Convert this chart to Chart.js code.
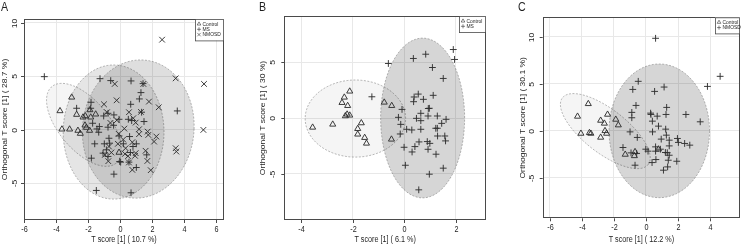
<!DOCTYPE html>
<html>
<head>
<meta charset="utf-8">
<script src="https://cdn.jsdelivr.net/npm/chart.js@4/dist/chart.umd.min.js"></script>
<style>
body { margin: 0; background: #fff; width: 745px; height: 244px; overflow: hidden; position: relative; }
canvas { position: absolute; top: 0; }
</style>
</head>
<body>
<canvas id="pa" width="248" height="244" style="left:0px"></canvas>
<canvas id="pb" width="250" height="244" style="left:250px"></canvas>
<canvas id="pc" width="245" height="244" style="left:500px"></canvas>
<script>
// ---- panel A : Control / MS / NMOSD ----
const aControl = [[-3.02,3.04],[-3.75,1.77],[-3.63,0.06],[-3.15,0.06],[-2.63,-0.06],[-2.48,-0.34],[-2.71,1.43],[-2.31,1.18],[-2.17,1.30],[-1.88,1.86],[-1.83,1.18],[-1.52,1.46],[-2.19,0.43],[-2.10,0.22],[-1.90,-0.06],[-0.06,-2.11]];
const aMS = [[-4.73,4.97],[-1.25,4.78],[-0.58,4.60],[0.69,4.57],[1.44,4.32],[1.31,3.48],[1.21,2.89],[3.58,1.77],[-2.71,2.02],[-1.81,2.58],[-1.83,2.02],[0.67,2.39],[1.35,1.65],[-1.02,1.30],[-0.75,1.55],[-0.38,1.40],[-0.06,0.99],[0.52,0.99],[0.73,0.87],[1.50,0.78],[-1.71,0.62],[-1.29,0.31],[-0.75,0.25],[-0.40,0.43],[-1.44,0.09],[-1.33,-0.22],[-0.06,-0.56],[0.60,-0.62],[-0.69,-0.78],[-1.58,-1.30],[-0.98,-1.30],[0.21,-1.30],[1.02,-1.30],[-0.65,-1.24],[-0.85,-1.86],[-1.06,-2.17],[-0.75,-2.48],[0.81,-1.55],[0.65,-2.11],[1.67,-2.33],[0.04,-3.01],[0.56,-3.01],[-0.02,-2.95],[-1.79,-2.64],[1.02,-3.51],[-0.38,-4.13],[-1.48,-5.65],[0.69,-5.87]];
const aNMOSD = [[2.63,8.42],[5.25,4.29],[3.48,4.81],[5.21,0.0],[3.48,-1.71],[3.52,-2.02],[-0.33,4.29],[1.46,4.29],[1.81,2.64],[2.42,2.11],[-0.21,2.76],[-1.0,2.39],[0.56,1.65],[1.31,1.68],[-0.81,1.65],[0.83,1.09],[0.98,0.68],[-0.60,0.65],[0.27,0.12],[1.19,0.06],[-0.08,-0.37],[1.19,-0.40],[1.77,-0.47],[2.27,-0.62],[2.13,-1.09],[1.73,-0.16],[-0.13,-1.30],[0.77,-1.15],[0.35,-1.71],[-0.69,-1.55],[-0.54,-2.11],[-0.94,-2.33],[0.31,-2.24],[0.50,-2.45],[0.98,-2.17],[1.60,-1.95],[1.71,-2.90],[0.94,-2.42],[0.56,-3.04],[-0.73,-2.92],[0.77,-3.73],[1.92,-3.76],[-0.20,0.90],[0.20,-0.90]];
// confidence ellipses: [cx, cy, ux, uy, vx, vy]
const aEllControl = [-2.25, 0.47, 2.01, -3.57, -1.20, -1.50];
const aEllMS = [-0.40, -0.20, 3.15, 0, 0, 6.26];
const aEllNMOSD = [1.14, 0.08, 3.49, 0, 0.15, 6.45];
const aXTicks = [-6, -4, -2, 0, 2, 4, 6];
const aYTicks = [-5, 0, 5, 10];

// ---- panel B : Control / MS ----
const bControl = [[-3.56,-0.84],[-2.78,-0.57],[-2.12,2.39],[-2.33,1.85],[-2.42,1.37],[-2.20,1.10],[-2.29,0.18],[-2.22,0.33],[-2.12,0.24],[-1.67,-0.45],[-1.81,-0.96],[-1.81,-1.46],[-1.54,-1.76],[-1.47,-2.27],[-0.78,1.40],[-0.49,1.10],[-0.50,-1.91]];
const bMS = [[-0.62,4.88],[0.35,5.33],[0.83,5.71],[1.90,6.13],[1.95,5.24],[1.09,4.52],[1.51,3.54],[-1.26,1.90],[0.54,2.14],[0.38,1.88],[0.36,1.46],[0.74,1.67],[1.12,2.03],[0.97,0.87],[0.93,0.85],[-0.09,0.77],[-0.23,0.06],[0.47,-0.03],[0.64,0.42],[0.64,-0.24],[0.92,0.18],[1.28,0.18],[1.62,-0.12],[-0.14,-0.57],[0.09,-1.01],[0.29,-1.07],[0.64,-1.01],[1.22,-0.92],[1.28,-0.92],[1.45,-0.48],[-0.16,-1.43],[1.29,-1.61],[1.57,-1.61],[1.60,-2.05],[0.57,-2.14],[0.89,-2.11],[0.99,-2.27],[0.41,-2.56],[-0.01,-2.62],[0.30,-3.04],[0.92,-2.80],[1.23,-3.24],[0.04,-4.23],[1.51,-4.49],[0.97,-5.03],[0.56,-6.43]];
const bEllControl = [-1.90, -0.05, 1.95, 0, 0, 3.45];
const bEllMS = [0.71, 0, 1.63, 0, 0, 7.15];
const bXTicks = [-4, -2, 0, 2];
const bYTicks = [-5, 0, 5];

// ---- panel C : Control / NMOSD ----
const cControl = [[-3.59,2.87],[-4.26,1.53],[-2.39,1.74],[-2.82,1.10],[-2.59,0.79],[-1.88,1.21],[-1.72,0.61],[-4.05,-0.28],[-3.52,-0.21],[-3.43,-0.28],[-2.55,0.0],[-2.45,-0.28],[-2.82,-0.70],[-1.29,-2.51],[-0.68,-2.23],[-0.72,-2.66],[0.78,-1.95]];
const cNMOSD = [[0.60,9.83],[4.62,5.79],[3.83,4.72],[-0.48,5.26],[-0.82,4.40],[0.54,4.19],[1.13,4.65],[-0.62,2.70],[-0.88,1.96],[-0.88,1.39],[0.29,1.88],[0.31,1.74],[0.70,1.56],[1.29,2.49],[1.25,1.74],[2.49,1.74],[3.38,0.96],[0.40,1.03],[0.78,0.50],[-0.99,-0.11],[-0.54,-0.70],[0.41,-0.11],[1.23,0.18],[1.27,-0.46],[1.45,-0.99],[0.95,-0.88],[1.96,-0.81],[2.02,-1.23],[2.41,-1.34],[2.73,-1.52],[1.45,-1.60],[-1.43,-1.77],[0.60,-1.70],[-0.01,-1.95],[0.13,-2.16],[0.60,-2.16],[0.90,-1.95],[1.21,-2.30],[1.33,-2.33],[1.45,-2.59],[-0.93,-2.34],[-0.58,-2.40],[0.62,-3.05],[0.38,-3.37],[1.39,-3.12],[1.92,-3.23],[1.35,-3.83],[1.09,-4.18],[-0.68,-3.65]];
const cEllControl = [-2.53, -0.03, 2.68, -3.52, -0.80, -1.87];
const cEllNMOSD = [0.83, 0, 3.13, 0, 0, 7.1];
const cXTicks = [-6, -4, -2, 0, 2, 4];
const cYTicks = [-5, 0, 5, 10];

const FONT = '"Liberation Sans", Arial, sans-serif';
const SQ = 0.85; // text is narrower than tall in the source image
const INK = '#303030';

function txt(ctx, s, x, y, size, rot, align) {
  ctx.save();
  ctx.translate(x, y);
  ctx.scale(SQ, 1);
  if (rot) ctx.rotate(rot);
  ctx.font = size + 'px ' + FONT;
  ctx.fillStyle = '#1e1e1e';
  ctx.textAlign = align || 'center';
  ctx.textBaseline = 'middle';
  ctx.fillText(s, 0, 0);
  ctx.restore();
}

const triStyle = { pointStyle: 'triangle', radius: 3.5 };
const plusStyle = { pointStyle: 'cross', radius: 3.4 };
const xStyle = { pointStyle: 'crossRot', radius: 4 };

function ds(label, pts, st) {
  return {
    label,
    data: pts.map(p => ({ x: p[0], y: p[1] })),
    pointStyle: st.pointStyle,
    pointRadius: st.radius,
    pointBorderWidth: 0.95,
    pointBorderColor: INK,
    pointBackgroundColor: 'rgba(0,0,0,0)'
  };
}

function drawEllipse(chart, e, fill) {
  const { ctx, scales: { x, y } } = chart;
  ctx.beginPath();
  for (let i = 0; i <= 160; i++) {
    const t = i / 160 * Math.PI * 2;
    const dx = e[0] + e[2] * Math.cos(t) + e[4] * Math.sin(t);
    const dy = e[1] + e[3] * Math.cos(t) + e[5] * Math.sin(t);
    const px = x.getPixelForValue(dx), py = y.getPixelForValue(dy);
    if (i) ctx.lineTo(px, py); else ctx.moveTo(px, py);
  }
  ctx.closePath();
  ctx.fillStyle = fill;
  ctx.fill();
  ctx.setLineDash([2, 1.5]);
  ctx.lineWidth = 0.7;
  ctx.strokeStyle = 'rgba(110,110,110,0.7)';
  ctx.stroke();
  ctx.setLineDash([]);
}

function makePanel(cfg) {
  const W = cfg.width, Hh = 244;
  const deco = {
    id: 'deco',
    beforeDatasetsDraw(chart) {
      const { ctx, chartArea: a } = chart;
      ctx.save();
      ctx.beginPath();
      ctx.rect(a.left, a.top, a.right - a.left, a.bottom - a.top);
      ctx.clip();
      cfg.ellipses.forEach(e => drawEllipse(chart, e[0], e[1]));
      ctx.restore();
    },
    afterDraw(chart) {
      const { ctx, chartArea: a, scales: { x, y } } = chart;
      ctx.save();
      // frame
      ctx.strokeStyle = '#4a4a4a';
      ctx.lineWidth = 1;
      ctx.strokeRect(Math.round(a.left) + 0.5, Math.round(a.top) + 0.5,
        Math.round(a.right - a.left) - 1, Math.round(a.bottom - a.top) - 1);
      // ticks and tick labels
      ctx.beginPath();
      cfg.xTicks.forEach(v => {
        const px = Math.round(x.getPixelForValue(v)) + 0.5;
        ctx.moveTo(px, a.bottom); ctx.lineTo(px, a.bottom + 3);
        txt(ctx, String(v), px, a.bottom + 9.5, 8.5);
      });
      cfg.yTicks.forEach(v => {
        const py = Math.round(y.getPixelForValue(v)) + 0.5;
        ctx.moveTo(a.left, py); ctx.lineTo(a.left - 3, py);
        txt(ctx, String(v), a.left - cfg.yLabOff, py, 8.5, -Math.PI / 2);
      });
      ctx.stroke();
      // axis titles
      txt(ctx, cfg.xTitle, (a.left + a.right) / 2, 239.3, 8.5);
      txt(ctx, cfg.yTitle, a.left - cfg.yTitleOff, (a.top + a.bottom) / 2, 8.5, -Math.PI / 2);
      // panel letter
      txt(ctx, cfg.letter, cfg.letterX, 8, 12.5, 0, 'left');
      // legend box
      const lg = cfg.legend;
      const n = chart.data.datasets.length;
      const bh = 4 + n * 5.3 + 1.5;
      ctx.fillStyle = '#fff';
      ctx.fillRect(lg.x, a.top, a.right - lg.x, bh);
      ctx.strokeStyle = '#4a4a4a';
      ctx.lineWidth = 0.8;
      ctx.strokeRect(lg.x + 0.5, a.top + 0.5, a.right - lg.x - 1, bh);
      chart.data.datasets.forEach((d, i) => {
        const cy = a.top + 5 + i * 5.3;
        ctx.strokeStyle = INK;
        ctx.fillStyle = 'rgba(0,0,0,0)';
        ctx.lineWidth = 0.6;
        Chart.helpers.drawPoint(ctx, { pointStyle: d.pointStyle, radius: d.pointRadius * 0.6, rotation: 0, borderWidth: 0.6 }, lg.x + 4, cy);
        txt(ctx, d.label, lg.x + 7.5, cy, 5.8, 0, 'left');
      });
      ctx.restore();
    }
  };
  return new Chart(document.getElementById(cfg.id), {
    type: 'scatter',
    data: { datasets: cfg.datasets },
    options: {
      responsive: false,
      animation: false,
      devicePixelRatio: 1,
      layout: { padding: { left: 0, top: cfg.top, right: W - cfg.right, bottom: 0 } },
      plugins: { legend: { display: false }, tooltip: { enabled: false } },
      scales: {
        x: {
          type: 'linear', min: cfg.xMin, max: cfg.xMax,
          afterBuildTicks: s => { s.ticks = cfg.xTicks.map(v => ({ value: v })); },
          afterFit: s => { s.height = Hh - cfg.bottom; },
          ticks: { display: false },
          grid: { color: '#e8e8e8', lineWidth: 1, drawTicks: false },
          border: { display: false }
        },
        y: {
          type: 'linear', min: cfg.yMin, max: cfg.yMax,
          afterBuildTicks: s => { s.ticks = cfg.yTicks.map(v => ({ value: v })); },
          afterFit: s => { s.width = cfg.left; },
          ticks: { display: false },
          grid: { color: '#e8e8e8', lineWidth: 1, drawTicks: false },
          border: { display: false }
        }
      }
    },
    plugins: [deco]
  });
}

makePanel({
  id: 'pa', width: 248, left: 24, right: 224, top: 19, bottom: 220,
  xMin: -6, xMax: 6.5, yMin: -8.41, yMax: 10.35,
  xTicks: aXTicks, yTicks: aYTicks,
  xTitle: 'T score [1] ( 10.7 %)', yTitle: 'Orthogonal T score [1] ( 28.7 %)',
  yLabOff: 8.5, yTitleOff: 18.5, letter: 'A', letterX: 1,
  legend: { x: 195 },
  ellipses: [[aEllControl, 'rgba(0,0,0,0.04)'], [aEllMS, 'rgba(0,0,0,0.10)'], [aEllNMOSD, 'rgba(0,0,0,0.13)']],
  datasets: [ds('Control', aControl, triStyle), ds('MS', aMS, plusStyle), ds('NMOSD', aNMOSD, xStyle)]
});

makePanel({
  id: 'pb', width: 250, left: 34.3, right: 236, top: 16, bottom: 220,
  xMin: -4.66, xMax: 3.17, yMin: -9.13, yMax: 9.13,
  xTicks: bXTicks, yTicks: bYTicks,
  xTitle: 'T score [1] ( 6.1 %)', yTitle: 'Orthogonal T score [1] ( 30 %)',
  yLabOff: 11.5, yTitleOff: 21, letter: 'B', letterX: 9,
  legend: { x: 209 },
  ellipses: [[bEllControl, 'rgba(0,0,0,0.04)'], [bEllMS, 'rgba(0,0,0,0.16)']],
  datasets: [ds('Control', bControl, triStyle), ds('MS', bMS, plusStyle)]
});

makePanel({
  id: 'pc', width: 245, left: 42.7, right: 243, top: 17.3, bottom: 218.3,
  xMin: -6.43, xMax: 5.86, yMin: -9.29, yMax: 12.06,
  xTicks: cXTicks, yTicks: cYTicks,
  xTitle: 'T score [1] ( 12.2 %)', yTitle: 'Orthogonal T score [1] ( 30.1 %)',
  yLabOff: 11, yTitleOff: 19.5, letter: 'C', letterX: 18,
  legend: { x: 215 },
  ellipses: [[cEllControl, 'rgba(0,0,0,0.04)'], [cEllNMOSD, 'rgba(0,0,0,0.16)']],
  datasets: [ds('Control', cControl, triStyle), ds('NMOSD', cNMOSD, plusStyle)]
});
</script>
</body>
</html>
